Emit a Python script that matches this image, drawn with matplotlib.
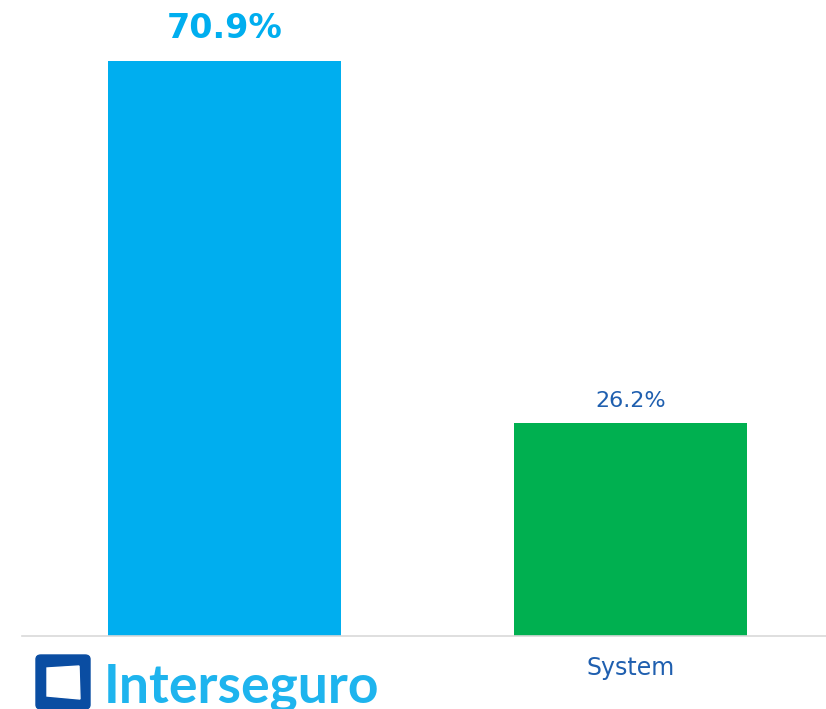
import matplotlib.pyplot as plt
from matplotlib.patches import FancyBboxPatch, Polygon

# datos
categorias = ["Interseguro", "System"]
valores = [70.9, 26.2]
etiquetas = ["70.9%", "26.2%"]
colores = ["#00AEEF", "#00B050"]

W, H = 826, 709
fig = plt.figure(figsize=(W / 100, H / 100), dpi=100)
ax = fig.add_axes([22 / W, (H - 636) / H, (W - 22) / W, 636 / H])

x = range(len(valores))
ax.bar(x, valores, width=0.574, color=colores)
ax.set_xlim(-0.499, 1.4815)
ax.set_ylim(0, 78.4)

# etiquetas de valor
ax.text(0, valores[0] + 1.9, etiquetas[0], ha="center", va="bottom",
        fontsize=24, fontweight="bold", color="#00AEEF", family="DejaVu Sans")
ax.text(1, valores[1] + 1.5, etiquetas[1], ha="center", va="bottom",
        fontsize=16, color="#1F5FAF", family="DejaVu Sans")

for s in ["top", "right", "left"]:
    ax.spines[s].set_visible(False)
ax.spines["bottom"].set_color("#D9D9D9")
ax.spines["bottom"].set_linewidth(1.2)
ax.set_yticks([])
ax.set_xticks([])

# etiqueta eje x
ax.text(1, -4.0, categorias[1], ha="center", va="center",
        fontsize=17, color="#1F5FAF", family="DejaVu Sans")

# logo
fig.patches.append(FancyBboxPatch((36 / W, 0 / H), 54 / W, 54 / H,
                                  boxstyle="round,pad=0,rounding_size=0.006",
                                  transform=fig.transFigure, color="#0A4DA2"))
fig.patches.append(Polygon([(47 / W, 13 / H), (80 / W, 10 / H), (79 / W, 43 / H), (47 / W, 41 / H)],
                           closed=True, transform=fig.transFigure, color="white"))
fig.text(104 / W, 21 / H, categorias[0], ha="left", va="center",
         fontsize=38.5, fontweight="bold", color="#1EB4EE", family="Lato")

fig.savefig("out.png", dpi=100)
